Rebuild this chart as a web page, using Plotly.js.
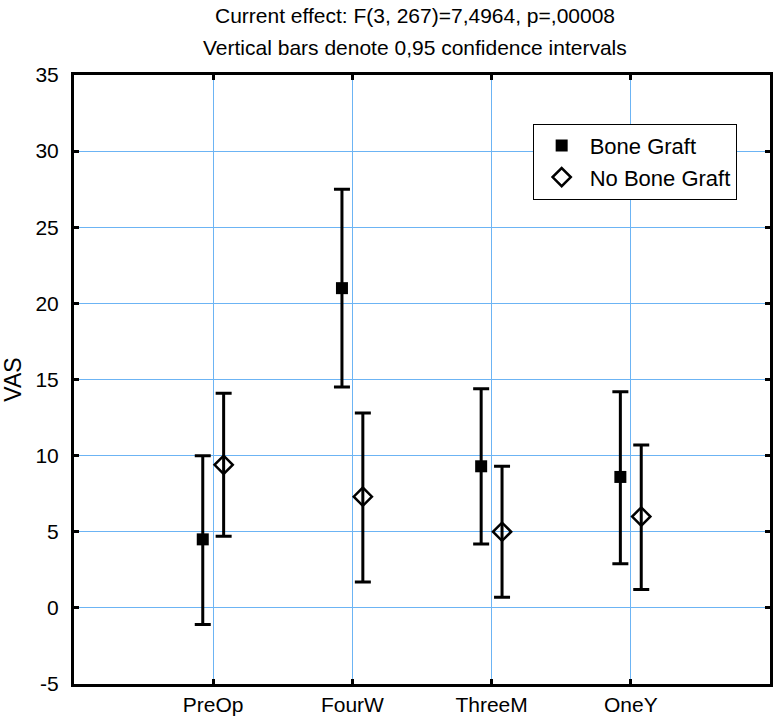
<!DOCTYPE html>
<html>
<head>
<meta charset="utf-8">
<script src="https://cdn.plot.ly/plotly-3.0.1.min.js"></script>
<style>
  html, body { margin: 0; padding: 0; background: #fff; }
  #chart { width: 774px; height: 718px; }
</style>
</head>
<body>
<div id="chart"></div>
<script>
// -------------------- DATA --------------------
const categories = ["PreOp", "FourW", "ThreeM", "OneY"];

const boneMean  = [4.5, 21.0, 9.3, 8.6];
const boneLow   = [-1.1, 14.5, 4.2, 2.9];
const boneHigh  = [10.0, 27.5, 14.4, 14.2];

const noBoneMean = [9.4, 7.3, 5.0, 6.0];
const noBoneLow  = [4.7, 1.7, 0.7, 1.2];
const noBoneHigh = [14.1, 12.8, 9.3, 10.7];

const yTicks = [-5, 0, 5, 10, 15, 20, 25, 30, 35];

const titleLine1 = "Current effect: F(3, 267)=7,4964, p=,00008";
const titleLine2 = "Vertical bars denote 0,95 confidence intervals";

// -------------------- HELPERS --------------------
const SHIFT = 0.075; // side-by-side offset within a category
const catPos = categories.map((c, i) => i + 1);

function errBars(mean, low, high) {
    return {
        type: "data",
        symmetric: false,
        array: high.map((h, i) => h - mean[i]),
        arrayminus: mean.map((m, i) => m - low[i]),
        color: "#000",
        thickness: 3,
        width: 8
    };
}

// -------------------- TRACES --------------------
const traces = [
    {
        x: catPos.map(p => p - SHIFT),
        y: boneMean,
        name: "Bone Graft",
        type: "scatter",
        mode: "markers",
        marker: { symbol: "square", size: 12, color: "#000" },
        error_y: errBars(boneMean, boneLow, boneHigh)
    },
    {
        x: catPos.map(p => p + SHIFT),
        y: noBoneMean,
        name: "No Bone Graft",
        type: "scatter",
        mode: "markers",
        marker: {
            symbol: "diamond-open", size: 14, color: "#000",
            line: { width: 2.5, color: "#000" }
        },
        error_y: errBars(noBoneMean, noBoneLow, noBoneHigh)
    }
];

// -------------------- LAYOUT --------------------
const gridBlue = "#6cb4f4";
const FONT = "Liberation Sans, Arial, sans-serif";
const axisFont = { family: FONT, size: 21, color: "#000" };

const layout = {
    width: 774,
    height: 718,
    margin: { l: 74, r: 4, t: 75, b: 34 },
    paper_bgcolor: "#fff",
    plot_bgcolor: "#fff",
    font: axisFont,
    showlegend: true,
    legend: {
        x: 0.659, y: 0.92, xanchor: "left", yanchor: "top",
        bgcolor: "#fff",
        bordercolor: "#000",
        borderwidth: 1,
        itemwidth: 46,
        font: { family: FONT, size: 22, color: "#000" },
        tracegroupgap: 0
    },
    xaxis: {
        range: [0, 5],
        tickvals: catPos,
        ticktext: categories,
        showgrid: true,
        gridcolor: gridBlue,
        gridwidth: 1,
        zeroline: false,
        showline: true,
        linecolor: "#000",
        linewidth: 3,
        mirror: "ticks",
        ticks: "inside",
        ticklen: 5,
        tickwidth: 3,
        tickcolor: "#000",
        tickfont: axisFont
    },
    yaxis: {
        range: [-5, 35],
        tickvals: yTicks,
        ticktext: yTicks.map(String),
        showgrid: true,
        gridcolor: gridBlue,
        gridwidth: 1,
        zeroline: false,
        showline: true,
        linecolor: "#000",
        linewidth: 3,
        mirror: "ticks",
        ticks: "inside",
        ticklen: 5,
        tickwidth: 3,
        tickcolor: "#000",
        tickfont: axisFont,
        ticklabelstandoff: 8,
        title: { text: "VAS", font: { family: FONT, size: 23, color: "#000" } }
    },
    annotations: [
        {
            text: titleLine1, xref: "paper", yref: "paper",
            x: 0.49, y: 1, yshift: 60, xanchor: "center", yanchor: "middle",
            showarrow: false,
            font: { family: FONT, size: 21, color: "#000" }
        },
        {
            text: titleLine2, xref: "paper", yref: "paper",
            x: 0.49, y: 1, yshift: 28, xanchor: "center", yanchor: "middle",
            showarrow: false,
            font: { family: FONT, size: 21, color: "#000" }
        }
    ]
};

Plotly.newPlot("chart", traces, layout, { displayModeBar: false, staticPlot: true });
</script>
</body>
</html>
